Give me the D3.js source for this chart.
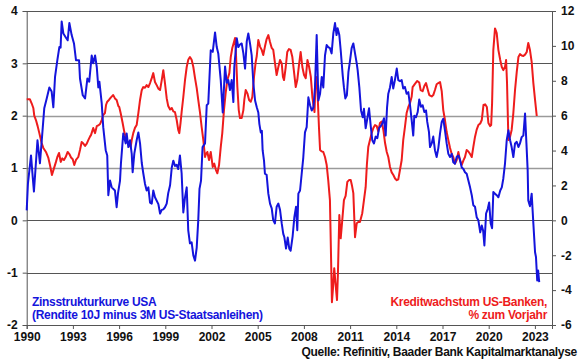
<!DOCTYPE html>
<html>
<head>
<meta charset="utf-8">
<script src="https://cdn.jsdelivr.net/npm/d3@7"></script>
<style>
  html, body { margin: 0; padding: 0; background: #fff; }
  svg { display: block; font-family: "Liberation Sans", Arial, sans-serif; font-weight: bold; }
</style>
</head>
<body>
<div id="chart"></div>
<script>
// x axis tick years, left and right axis ticks
const yearTicks = [1990, 1993, 1996, 1999, 2002, 2005, 2008, 2011, 2014, 2017, 2020, 2023];
const leftTicks = [-2, -1, 0, 1, 2, 3, 4];
const rightTicks = [-6, -4, -2, 0, 2, 4, 6, 8, 10, 12];

// Zinsstrukturkurve USA (10J minus 3M), [year, %-points]
const spreadSeries = [
  [1990.00, 0.19], [1990.08, 0.70], [1990.28, 1.24], [1990.41, 0.76], [1990.47, 0.55], [1990.70, 1.53],
  [1990.86, 1.09], [1990.97, 1.50], [1991.14, 2.14], [1991.30, 2.33], [1991.47, 2.54], [1991.62, 2.46],
  [1991.73, 2.16], [1991.84, 2.74], [1991.99, 3.06], [1992.12, 3.31], [1992.20, 3.30], [1992.27, 3.80],
  [1992.38, 3.57], [1992.53, 3.50], [1992.66, 3.44], [1992.77, 3.77], [1992.92, 3.54], [1993.07, 3.38],
  [1993.20, 3.06], [1993.40, 3.06], [1993.46, 2.71], [1993.64, 2.39], [1993.79, 2.33], [1993.94, 2.71],
  [1994.06, 2.65], [1994.22, 3.15], [1994.32, 3.00], [1994.44, 3.15], [1994.55, 2.93], [1994.65, 2.54],
  [1994.72, 2.65], [1994.87, 2.24], [1994.97, 1.78], [1995.13, 1.34], [1995.23, 1.24], [1995.30, 0.48],
  [1995.41, 0.76], [1995.52, 0.63], [1995.73, 0.57], [1995.84, 0.25], [1995.93, 0.52], [1996.06, 0.76],
  [1996.12, 1.09], [1996.27, 1.66], [1996.43, 1.47], [1996.49, 1.66], [1996.60, 1.40], [1996.71, 1.53],
  [1996.82, 1.27], [1996.88, 0.92], [1996.99, 1.28], [1997.14, 1.53], [1997.25, 1.68], [1997.36, 1.47],
  [1997.47, 1.10], [1997.57, 0.90], [1997.68, 0.70], [1997.79, 0.57], [1997.90, 0.63], [1998.01, 0.34],
  [1998.12, 0.32], [1998.22, 0.57], [1998.33, 0.44], [1998.55, 0.31], [1998.66, 0.13], [1998.77, 0.20],
  [1998.87, 0.21], [1998.98, 0.25], [1999.09, 0.32], [1999.19, 0.52], [1999.31, 0.67], [1999.42, 1.01],
  [1999.52, 1.14], [1999.63, 1.04], [1999.74, 1.06], [1999.84, 0.98], [1999.95, 1.24], [2000.06, 0.90],
  [2000.17, 0.15], [2000.28, 0.44], [2000.39, 0.63], [2000.49, -0.19], [2000.60, -0.44], [2000.71, -0.42],
  [2000.82, -0.67], [2000.93, -0.77], [2001.04, -0.52], [2001.14, 0.00], [2001.22, 0.60], [2001.32, 0.76],
  [2001.42, 1.40], [2001.58, 1.47], [2001.69, 2.20], [2001.79, 2.23], [2001.95, 3.25], [2002.08, 3.22],
  [2002.23, 3.59], [2002.34, 3.31], [2002.44, 3.19], [2002.60, 2.68], [2002.73, 2.06], [2002.88, 2.94],
  [2002.99, 2.63], [2003.09, 2.68], [2003.20, 2.49], [2003.31, 2.68], [2003.42, 2.26], [2003.48, 2.93],
  [2003.64, 3.48], [2003.74, 3.31], [2003.85, 3.36], [2003.96, 3.38], [2004.07, 3.19], [2004.18, 2.90],
  [2004.29, 3.42], [2004.39, 3.57], [2004.50, 3.38], [2004.61, 3.15], [2004.72, 2.61], [2004.83, 2.29],
  [2004.94, 2.16], [2005.04, 2.06], [2005.11, 1.84], [2005.20, 1.68], [2005.27, 1.71], [2005.32, 1.34],
  [2005.41, 1.14], [2005.47, 0.89], [2005.58, 0.87], [2005.69, 0.51], [2005.80, 0.32], [2005.91, 0.23],
  [2006.01, 0.00], [2006.12, -0.06], [2006.23, 0.26], [2006.34, 0.32], [2006.45, 0.20], [2006.56, -0.06],
  [2006.66, -0.26], [2006.73, -0.32], [2006.84, -0.54], [2006.95, -0.33], [2007.05, -0.54], [2007.14, -0.58],
  [2007.27, -0.30], [2007.38, 0.06], [2007.49, 0.26], [2007.57, -0.19], [2007.64, 0.51], [2007.75, 0.57],
  [2007.86, 0.90], [2007.96, 1.20], [2008.07, 1.68], [2008.18, 1.78], [2008.29, 2.35], [2008.40, 2.20],
  [2008.51, 2.10], [2008.62, 2.16], [2008.72, 2.54], [2008.83, 3.54], [2008.94, 2.29], [2009.05, 2.42],
  [2009.16, 2.74], [2009.26, 2.54], [2009.37, 3.15], [2009.48, 3.35], [2009.58, 3.31], [2009.69, 3.29],
  [2009.80, 3.19], [2009.91, 3.57], [2010.02, 3.77], [2010.12, 3.54], [2010.19, 3.67], [2010.30, 3.54],
  [2010.39, 3.25], [2010.52, 2.77], [2010.60, 2.54], [2010.69, 2.33], [2010.79, 2.39], [2010.89, 2.83],
  [2011.00, 3.06], [2011.10, 3.29], [2011.21, 3.38], [2011.32, 3.19], [2011.43, 3.00], [2011.49, 2.87],
  [2011.60, 2.54], [2011.71, 2.10], [2011.82, 1.97], [2011.90, 2.13], [2012.01, 1.76], [2012.12, 1.95],
  [2012.23, 2.14], [2012.34, 1.80], [2012.44, 1.53], [2012.55, 1.47], [2012.66, 1.60], [2012.77, 1.57],
  [2012.88, 1.76], [2012.99, 1.80], [2013.09, 1.85], [2013.20, 1.95], [2013.31, 1.62], [2013.40, 2.16],
  [2013.48, 2.42], [2013.59, 2.54], [2013.70, 2.74], [2013.80, 2.52], [2013.91, 2.68], [2014.03, 2.90],
  [2014.13, 2.68], [2014.24, 2.66], [2014.35, 2.68], [2014.45, 2.52], [2014.56, 2.55], [2014.67, 2.42],
  [2014.78, 2.45], [2014.89, 2.20], [2015.00, 1.91], [2015.10, 1.62], [2015.17, 2.00], [2015.28, 1.97],
  [2015.39, 2.07], [2015.49, 2.31], [2015.60, 2.17], [2015.71, 2.20], [2015.82, 2.07], [2015.93, 2.10],
  [2016.01, 1.88], [2016.12, 1.69], [2016.19, 1.40], [2016.30, 1.47], [2016.40, 1.60], [2016.51, 1.34],
  [2016.62, 1.21], [2016.73, 1.38], [2016.84, 1.66], [2016.95, 1.88], [2017.05, 1.94], [2017.16, 1.72],
  [2017.27, 1.47], [2017.38, 1.27], [2017.49, 1.21], [2017.60, 1.27], [2017.70, 1.11], [2017.81, 1.08],
  [2017.92, 1.21], [2018.03, 1.24], [2018.14, 1.15], [2018.25, 1.01], [2018.36, 0.98], [2018.46, 0.92],
  [2018.57, 0.89], [2018.68, 0.76], [2018.79, 0.63], [2018.90, 0.48], [2019.00, 0.29], [2019.11, 0.26],
  [2019.22, 0.06], [2019.33, 0.00], [2019.45, -0.23], [2019.55, -0.10], [2019.64, -0.20], [2019.72, -0.48],
  [2019.83, 0.13], [2019.94, 0.22], [2020.03, 0.34], [2020.13, -0.06], [2020.22, -0.15], [2020.30, 0.54],
  [2020.41, 0.51], [2020.52, 0.48], [2020.63, 0.44], [2020.75, 0.57], [2020.85, 0.63], [2020.95, 0.80],
  [2021.06, 1.09], [2021.17, 1.53], [2021.28, 1.72], [2021.39, 1.53], [2021.49, 1.40], [2021.60, 1.21],
  [2021.71, 1.47], [2021.82, 1.50], [2021.93, 1.40], [2022.03, 1.47], [2022.14, 1.59], [2022.25, 1.62],
  [2022.36, 2.04], [2022.45, 1.47], [2022.53, 0.96], [2022.57, 0.38], [2022.68, 0.27], [2022.79, 0.51],
  [2022.90, -0.06], [2023.01, -0.61], [2023.07, -0.70], [2023.15, -1.15], [2023.21, -0.96], [2023.28, -1.18]
];

// Kreditwachstum US-Banken, % zum Vorjahr, [year, %]
const creditSeries = [
  [1990.00, 6.94], [1990.21, 6.94], [1990.32, 6.71], [1990.43, 6.44], [1990.49, 6.00], [1990.60, 5.75],
  [1990.71, 5.40], [1990.82, 5.00], [1990.97, 4.43], [1991.08, 4.15], [1991.25, 3.92], [1991.40, 3.60],
  [1991.51, 3.17], [1991.64, 2.60], [1991.77, 2.98], [1991.90, 3.35], [1991.99, 3.63], [1992.10, 3.86],
  [1992.21, 3.35], [1992.31, 3.55], [1992.42, 3.46], [1992.53, 3.63], [1992.66, 3.92], [1992.77, 3.80],
  [1992.88, 3.60], [1992.99, 3.50], [1993.09, 3.17], [1993.20, 3.46], [1993.35, 3.63], [1993.46, 4.03],
  [1993.57, 4.49], [1993.68, 4.40], [1993.79, 4.27], [1993.90, 4.40], [1994.00, 4.60], [1994.11, 4.80],
  [1994.18, 4.90], [1994.32, 5.29], [1994.44, 5.00], [1994.55, 5.40], [1994.65, 5.44], [1994.76, 5.52],
  [1994.87, 5.75], [1994.97, 6.04], [1995.08, 6.15], [1995.15, 6.61], [1995.23, 6.80], [1995.34, 6.90],
  [1995.47, 7.05], [1995.62, 7.18], [1995.73, 6.99], [1995.84, 6.90], [1995.95, 6.55], [1996.01, 6.50],
  [1996.10, 6.15], [1996.23, 5.58], [1996.34, 5.06], [1996.45, 4.70], [1996.56, 4.49], [1996.66, 4.32],
  [1996.75, 4.20], [1996.82, 4.60], [1996.92, 5.00], [1997.03, 5.30], [1997.14, 5.46], [1997.25, 6.15],
  [1997.36, 6.90], [1997.47, 7.46], [1997.57, 7.64], [1997.68, 7.60], [1997.79, 7.75], [1997.90, 7.64],
  [1998.01, 7.87], [1998.12, 8.15], [1998.22, 8.44], [1998.33, 7.93], [1998.44, 7.75], [1998.55, 7.55],
  [1998.66, 7.47], [1998.77, 8.04], [1998.87, 8.61], [1998.98, 7.85], [1999.09, 7.00], [1999.19, 6.55],
  [1999.31, 6.35], [1999.42, 6.44], [1999.52, 6.25], [1999.63, 6.20], [1999.74, 5.75], [1999.84, 5.18],
  [1999.91, 5.00], [1999.99, 5.58], [2000.06, 6.20], [2000.17, 7.07], [2000.28, 8.04], [2000.39, 8.79],
  [2000.49, 9.20], [2000.60, 9.36], [2000.71, 9.20], [2000.82, 8.79], [2000.93, 8.15], [2001.04, 7.58],
  [2001.14, 6.90], [2001.25, 6.20], [2001.36, 5.35], [2001.47, 4.60], [2001.58, 3.63], [2001.64, 3.80],
  [2001.73, 3.92], [2001.84, 3.46], [2001.95, 3.92], [2002.08, 3.06], [2002.18, 3.25], [2002.29, 2.88],
  [2002.38, 2.70], [2002.49, 3.17], [2002.60, 4.20], [2002.70, 5.00], [2002.81, 6.32], [2002.92, 7.30],
  [2003.03, 8.04], [2003.16, 8.44], [2003.25, 9.36], [2003.35, 9.88], [2003.46, 10.22], [2003.53, 10.45],
  [2003.59, 9.50], [2003.68, 7.64], [2003.77, 6.32], [2003.85, 5.86], [2003.96, 5.86], [2004.07, 6.32],
  [2004.13, 6.90], [2004.22, 7.47], [2004.33, 7.28], [2004.44, 6.90], [2004.55, 6.80], [2004.65, 7.07],
  [2004.76, 8.22], [2004.87, 9.08], [2004.94, 9.42], [2005.04, 10.34], [2005.15, 9.96], [2005.26, 9.77],
  [2005.36, 9.48], [2005.47, 9.96], [2005.58, 10.39], [2005.69, 10.62], [2005.80, 10.22], [2005.91, 9.88],
  [2006.01, 9.77], [2006.12, 9.02], [2006.23, 8.33], [2006.34, 8.79], [2006.45, 9.19], [2006.56, 8.99],
  [2006.64, 8.22], [2006.71, 8.04], [2006.82, 8.79], [2006.92, 9.65], [2007.03, 9.82], [2007.14, 9.77],
  [2007.25, 9.36], [2007.36, 8.50], [2007.47, 7.64], [2007.57, 8.04], [2007.68, 8.90], [2007.79, 9.65],
  [2007.90, 8.79], [2008.01, 8.33], [2008.12, 8.15], [2008.23, 9.19], [2008.34, 8.79], [2008.45, 8.22],
  [2008.55, 7.07], [2008.62, 6.61], [2008.69, 6.21], [2008.75, 7.76], [2008.84, 8.22], [2008.90, 7.00],
  [2008.98, 5.29], [2009.05, 4.03], [2009.16, 3.95], [2009.26, 3.92], [2009.37, 3.63], [2009.48, 3.17],
  [2009.58, 2.31], [2009.69, 1.16], [2009.75, -1.53], [2009.82, -4.69], [2009.88, -4.00], [2009.97, -2.74],
  [2010.06, -3.70], [2010.15, -4.57], [2010.21, -3.03], [2010.30, 0.30], [2010.39, -1.03], [2010.49, 0.00],
  [2010.60, 1.16], [2010.71, 1.40], [2010.82, 2.20], [2010.93, 2.31], [2011.04, 2.31], [2011.12, 2.00],
  [2011.21, 1.56], [2011.32, -0.97], [2011.43, -0.17], [2011.53, -0.10], [2011.64, -0.10], [2011.79, 0.41],
  [2011.90, 1.16], [2012.01, 1.90], [2012.09, 3.20], [2012.18, 4.20], [2012.29, 4.60], [2012.40, 5.00],
  [2012.51, 5.29], [2012.62, 5.46], [2012.73, 5.40], [2012.83, 5.10], [2012.94, 5.58], [2013.05, 5.66],
  [2013.16, 5.18], [2013.27, 4.43], [2013.38, 3.92], [2013.48, 3.63], [2013.59, 3.06], [2013.70, 2.75],
  [2013.81, 2.60], [2013.92, 2.40], [2014.03, 2.30], [2014.13, 2.35], [2014.24, 2.90], [2014.35, 3.46],
  [2014.45, 4.60], [2014.56, 5.35], [2014.67, 6.15], [2014.78, 6.50], [2014.89, 6.72], [2015.00, 7.10],
  [2015.06, 7.64], [2015.21, 7.82], [2015.36, 7.99], [2015.49, 7.90], [2015.58, 7.47], [2015.71, 7.40],
  [2015.82, 7.70], [2015.93, 7.87], [2016.04, 7.50], [2016.14, 7.18], [2016.30, 7.10], [2016.40, 7.18],
  [2016.51, 7.47], [2016.62, 7.80], [2016.73, 7.87], [2016.84, 7.93], [2016.95, 7.40], [2017.05, 6.32],
  [2017.16, 5.75], [2017.27, 5.06], [2017.38, 4.60], [2017.49, 4.15], [2017.60, 3.80], [2017.70, 3.63],
  [2017.81, 3.25], [2017.92, 3.44], [2018.03, 3.92], [2018.14, 3.44], [2018.25, 3.17], [2018.36, 3.44],
  [2018.46, 3.63], [2018.57, 4.03], [2018.68, 3.95], [2018.79, 3.80], [2018.90, 3.63], [2019.00, 4.20],
  [2019.11, 4.78], [2019.22, 5.20], [2019.33, 5.46], [2019.45, 5.55], [2019.55, 5.75], [2019.66, 6.61],
  [2019.77, 6.65], [2019.88, 6.50], [2019.98, 5.58], [2020.09, 5.40], [2020.16, 5.46], [2020.22, 6.72],
  [2020.30, 9.76], [2020.41, 11.00], [2020.52, 10.73], [2020.63, 9.76], [2020.75, 9.19], [2020.85, 8.79],
  [2020.95, 8.61], [2021.06, 8.80], [2021.13, 9.19], [2021.19, 7.87], [2021.28, 4.60], [2021.39, 4.80],
  [2021.49, 5.18], [2021.60, 6.15], [2021.71, 7.47], [2021.82, 8.50], [2021.93, 9.36], [2022.03, 9.53],
  [2022.14, 9.45], [2022.25, 9.42], [2022.36, 9.50], [2022.47, 9.65], [2022.57, 10.17], [2022.68, 9.76],
  [2022.79, 9.08], [2022.90, 7.87], [2023.01, 6.90], [2023.12, 5.98]
];

const spreadLabel = ['Zinsstrukturkurve USA', '(Rendite 10J minus 3M US-Staatsanleihen)'];
const creditLabel = ['Kreditwachstum US-Banken,', '% zum Vorjahr'];
const sourceLabel = 'Quelle: Refinitiv, Baader Bank Kapitalmarktanalyse';

const W = 580, H = 359;
const plot = { left: 26.7, right: 552, top: 11, bottom: 325 };
const blue = '#1414dc', red = '#ee1c1c';

const svg = d3.select('#chart').append('svg')
  .attr('width', W).attr('height', H);

const x = d3.scaleLinear()
  .domain([1990, 1990 + (plot.right - plot.left) / 15.4])
  .range([plot.left, plot.right]);
const yL = d3.scaleLinear().domain([-2, 4]).range([plot.bottom, plot.top]);
const yR = d3.scaleLinear().domain([-6, 12]).range([plot.bottom, plot.top]);

// gridlines (the 1 and 2 lines look lighter in the original)
svg.append('g').selectAll('line')
  .data(leftTicks)
  .join('line')
  .attr('x1', plot.left).attr('x2', plot.right)
  .attr('y1', d => Math.round(yL(d)) + 0.5).attr('y2', d => Math.round(yL(d)) + 0.5)
  .attr('stroke', d => (d === 1 || d === 2) ? '#9a9a9a' : '#555')
  .attr('stroke-width', d => (d === 1 || d === 2) ? 1.5 : 1);

// axes
const tickFont = sel => sel.selectAll('text')
  .attr('font-size', 12).attr('font-weight', 'bold').attr('fill', '#111')
  .attr('font-family', '"Liberation Sans", Arial, sans-serif');

const gL = svg.append('g').attr('transform', `translate(${plot.left},0)`)
  .call(d3.axisLeft(yL).tickValues(leftTicks).tickSize(4).tickPadding(5).tickFormat(d3.format('d')));
const gR = svg.append('g').attr('transform', `translate(${plot.right},0)`)
  .call(d3.axisRight(yR).tickValues(rightTicks).tickSize(4).tickPadding(5).tickFormat(d3.format('d')));
const gX = svg.append('g').attr('transform', `translate(0,${plot.bottom})`)
  .call(d3.axisBottom(x).tickValues(yearTicks).tickSize(4).tickPadding(3).tickFormat(d3.format('d')));

[gL, gR, gX].forEach(g => {
  g.select('.domain').attr('stroke', '#555');
  g.selectAll('.tick line').attr('stroke', '#555');
  tickFont(g);
});
gL.selectAll('.tick text').text(d => d < 0 ? '-' + Math.abs(d) : d);
gR.selectAll('.tick text').text(d => d < 0 ? '-' + Math.abs(d) : d);

// series
const lineL = d3.line().x(d => x(d[0])).y(d => yL(d[1]));
const lineR = d3.line().x(d => x(d[0])).y(d => yR(d[1]));

svg.append('path').datum(creditSeries)
  .attr('d', lineR).attr('fill', 'none')
  .attr('stroke', red).attr('stroke-width', 2).attr('stroke-linejoin', 'round');
svg.append('path').datum(spreadSeries)
  .attr('d', lineL).attr('fill', 'none')
  .attr('stroke', blue).attr('stroke-width', 2).attr('stroke-linejoin', 'round');

// labels
const txt = (s, xx, yy, anchor, color) => svg.append('text')
  .attr('x', xx).attr('y', yy).attr('text-anchor', anchor)
  .attr('font-size', 12).attr('font-weight', 'bold')
  .attr('letter-spacing', '-0.3px').attr('fill', color).text(s);

txt(spreadLabel[0], 32, 306, 'start', blue);
txt(spreadLabel[1], 32, 318.5, 'start', blue);
txt(creditLabel[0], 547, 306, 'end', red);
txt(creditLabel[1], 547, 318.5, 'end', red);
txt(sourceLabel, 577, 356, 'end', '#111');
</script>
</body>
</html>
